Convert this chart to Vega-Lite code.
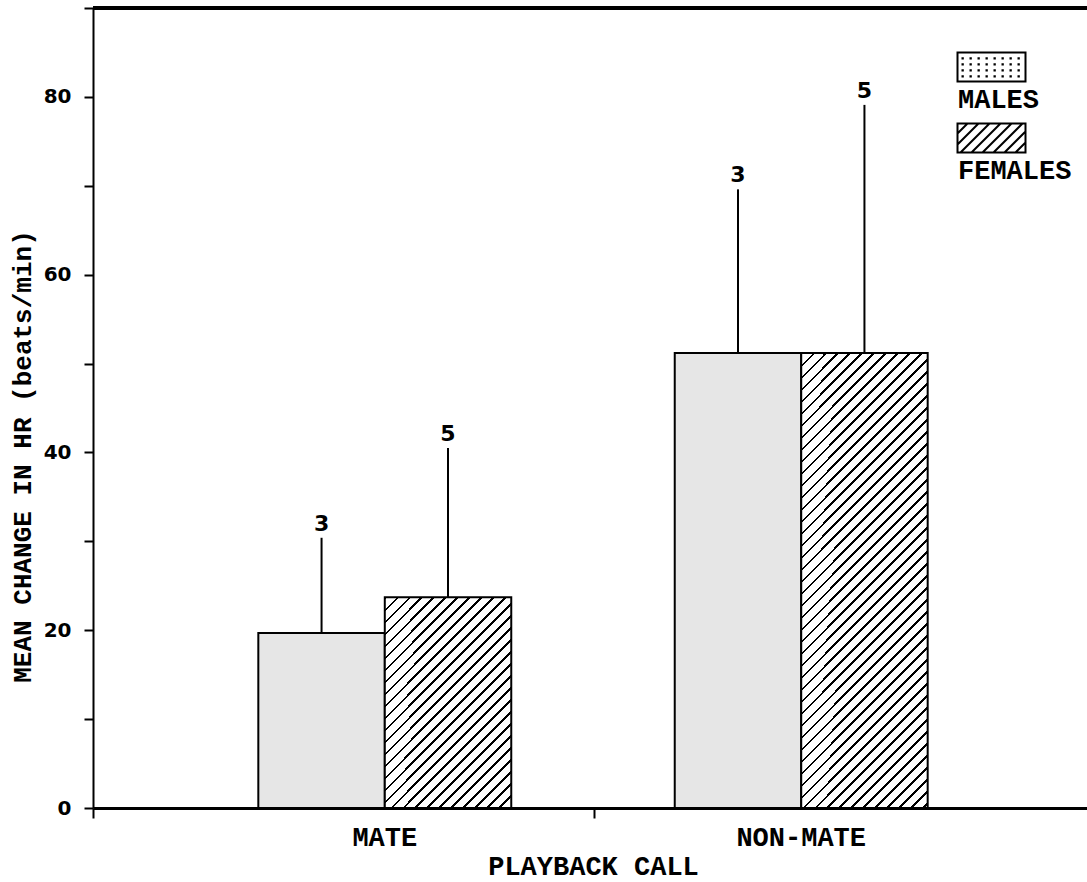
{
"$schema": "https://vega.github.io/schema/vega-lite/v6.json",
"width": 994, "height": 800,
"autosize": {"type": "none"},
"padding": {"left": 93, "top": 8, "right": 0, "bottom": 74},
"background": "white",
"config": {"view": {"stroke": null}, "axis": {"grid": false, "domainColor": "black", "tickColor": "black", "labelColor": "black", "titleColor": "black"}},
"data": {"values": [
 {"call": "MATE", "sex": "MALES", "mean": 19.7, "hi": 30.4, "n": 3},
 {"call": "MATE", "sex": "FEMALES", "mean": 23.7, "hi": 40.5, "n": 5},
 {"call": "NON-MATE", "sex": "MALES", "mean": 51.2, "hi": 69.6, "n": 3},
 {"call": "NON-MATE", "sex": "FEMALES", "mean": 51.2, "hi": 79.1, "n": 5}
]},
"resolve": {"scale": {"x": "independent"}},
"layer": [
 {
  "encoding": {
   "x": {"field": "call", "type": "nominal", "scale": {"paddingInner": 0.3926, "paddingOuter": 0.397, "range": [0, 1000]},
     "axis": {"title": "PLAYBACK CALL", "labelAngle": 0, "ticks": false, "tickSize": 0, "domainWidth": 3, "labelFont": "Liberation Mono", "labelFontWeight": "bold", "labelFontSize": 27, "labelPadding": 16, "titleFont": "Liberation Mono", "titleFontWeight": "bold", "titleFontSize": 27, "titlePadding": 3}},
   "xOffset": {"field": "sex", "type": "nominal", "scale": {"domain": ["MALES", "FEMALES"], "paddingInner": 0, "paddingOuter": 0}}
  },
  "layer": [
   {"mark": {"type": "point", "filled": false, "color": "black", "stroke": "black", "strokeWidth": 2, "size": 64},
    "encoding": {"y": {"datum": 0, "type": "quantitative"},
     "xOffset": {"datum": "MALES"},
     "shape": {"field": "sex", "type": "nominal",
      "scale": {"domain": ["MALES", "FEMALES"], "range": [
       "M1.25 -11.75H18.25V-4.5H1.25Z M2.5 -10.3h0.08v0.08h-0.08z M4.5 -10.3h0.08v0.08h-0.08z M6.5 -10.3h0.08v0.08h-0.08z M8.5 -10.3h0.08v0.08h-0.08z M10.5 -10.3h0.08v0.08h-0.08z M12.5 -10.3h0.08v0.08h-0.08z M14.5 -10.3h0.08v0.08h-0.08z M16.5 -10.3h0.08v0.08h-0.08z M2.5 -8.8h0.08v0.08h-0.08z M4.5 -8.8h0.08v0.08h-0.08z M6.5 -8.8h0.08v0.08h-0.08z M8.5 -8.8h0.08v0.08h-0.08z M10.5 -8.8h0.08v0.08h-0.08z M12.5 -8.8h0.08v0.08h-0.08z M14.5 -8.8h0.08v0.08h-0.08z M16.5 -8.8h0.08v0.08h-0.08z M2.5 -7.3h0.08v0.08h-0.08z M4.5 -7.3h0.08v0.08h-0.08z M6.5 -7.3h0.08v0.08h-0.08z M8.5 -7.3h0.08v0.08h-0.08z M10.5 -7.3h0.08v0.08h-0.08z M12.5 -7.3h0.08v0.08h-0.08z M14.5 -7.3h0.08v0.08h-0.08z M16.5 -7.3h0.08v0.08h-0.08z M2.5 -5.8h0.08v0.08h-0.08z M4.5 -5.8h0.08v0.08h-0.08z M6.5 -5.8h0.08v0.08h-0.08z M8.5 -5.8h0.08v0.08h-0.08z M10.5 -5.8h0.08v0.08h-0.08z M12.5 -5.8h0.08v0.08h-0.08z M14.5 -5.8h0.08v0.08h-0.08z M16.5 -5.8h0.08v0.08h-0.08z",
       "M1.25 -11.75H18.25V-4.5H1.25Z M1.25 -9.25L3.75 -11.75 M1.25 -6.5L6.5 -11.75 M2 -4.5L9.25 -11.75 M4.75 -4.5L12 -11.75 M7.5 -4.5L14.75 -11.75 M10.25 -4.5L17.5 -11.75 M13 -4.5L18.25 -9.75 M15.75 -4.5L18.25 -7"
      ]},
      "legend": {"title": null, "orient": "none", "legendX": 846, "legendY": 78, "padding": 0, "symbolSize": 64, "symbolOpacity": 1, "symbolStrokeColor": "black", "symbolStrokeWidth": 2, "labelFont": "Liberation Mono", "labelFontWeight": "bold", "labelFontSize": 27, "labelColor": "black", "labelOffset": -8, "rowPadding": 6}}}},
   {"transform": [{"filter": "datum.sex == 'MALES'"}],
    "mark": {"type": "bar", "fill": "#e6e6e6", "stroke": "black", "strokeWidth": 2},
    "encoding": {"y": {"field": "mean", "type": "quantitative", "scale": {"domain": [0, 90], "nice": false},
      "axis": {"title": "MEAN CHANGE IN HR (beats/min)", "titleY": 448, "values": [0, 10, 20, 30, 40, 50, 60, 70, 80, 90], "labelExpr": "datum.value % 20 == 0 && datum.value < 90 ? datum.label : ''", "tickSize": 9, "tickWidth": 2, "domainWidth": 2, "labelFont": "DejaVu Sans", "labelFontWeight": "bold", "labelFontSize": 20, "labelPadding": 13, "titleFont": "Liberation Mono", "titleFontWeight": "bold", "titleFontSize": 26, "titlePadding": 8}}}},
   {"transform": [{"filter": "datum.sex == 'FEMALES' && datum.call == 'MATE'"}],
    "mark": {"type": "bar", "stroke": "black", "strokeWidth": 2, "fill": {"gradient": "linear", "x1": 0, "y1": 0, "x2": 0.7302, "y2": 1.2115, "stops": [
{"offset":0,"color":"#fff"},{"offset":0,"color":"#000"},{"offset":0.0075,"color":"#000"},{"offset":0.0075,"color":"#fff"},
{"offset":0.0345,"color":"#fff"},{"offset":0.0345,"color":"#000"},{"offset":0.042,"color":"#000"},{"offset":0.042,"color":"#fff"},
{"offset":0.069,"color":"#fff"},{"offset":0.069,"color":"#000"},{"offset":0.0765,"color":"#000"},{"offset":0.0765,"color":"#fff"},
{"offset":0.1034,"color":"#fff"},{"offset":0.1034,"color":"#000"},{"offset":0.1109,"color":"#000"},{"offset":0.1109,"color":"#fff"},
{"offset":0.1379,"color":"#fff"},{"offset":0.1379,"color":"#000"},{"offset":0.1454,"color":"#000"},{"offset":0.1454,"color":"#fff"},
{"offset":0.1724,"color":"#fff"},{"offset":0.1724,"color":"#000"},{"offset":0.1799,"color":"#000"},{"offset":0.1799,"color":"#fff"},
{"offset":0.2069,"color":"#fff"},{"offset":0.2069,"color":"#000"},{"offset":0.2144,"color":"#000"},{"offset":0.2144,"color":"#fff"},
{"offset":0.2414,"color":"#fff"},{"offset":0.2414,"color":"#000"},{"offset":0.2489,"color":"#000"},{"offset":0.2489,"color":"#fff"},
{"offset":0.2759,"color":"#fff"},{"offset":0.2759,"color":"#000"},{"offset":0.2834,"color":"#000"},{"offset":0.2834,"color":"#fff"},
{"offset":0.3103,"color":"#fff"},{"offset":0.3103,"color":"#000"},{"offset":0.3178,"color":"#000"},{"offset":0.3178,"color":"#fff"},
{"offset":0.3448,"color":"#fff"},{"offset":0.3448,"color":"#000"},{"offset":0.3523,"color":"#000"},{"offset":0.3523,"color":"#fff"},
{"offset":0.3793,"color":"#fff"},{"offset":0.3793,"color":"#000"},{"offset":0.3868,"color":"#000"},{"offset":0.3868,"color":"#fff"},
{"offset":0.4138,"color":"#fff"},{"offset":0.4138,"color":"#000"},{"offset":0.4213,"color":"#000"},{"offset":0.4213,"color":"#fff"},
{"offset":0.4483,"color":"#fff"},{"offset":0.4483,"color":"#000"},{"offset":0.4558,"color":"#000"},{"offset":0.4558,"color":"#fff"},
{"offset":0.4828,"color":"#fff"},{"offset":0.4828,"color":"#000"},{"offset":0.4903,"color":"#000"},{"offset":0.4903,"color":"#fff"},
{"offset":0.5172,"color":"#fff"},{"offset":0.5172,"color":"#000"},{"offset":0.5247,"color":"#000"},{"offset":0.5247,"color":"#fff"},
{"offset":0.5517,"color":"#fff"},{"offset":0.5517,"color":"#000"},{"offset":0.5592,"color":"#000"},{"offset":0.5592,"color":"#fff"},
{"offset":0.5862,"color":"#fff"},{"offset":0.5862,"color":"#000"},{"offset":0.5937,"color":"#000"},{"offset":0.5937,"color":"#fff"},
{"offset":0.6207,"color":"#fff"},{"offset":0.6207,"color":"#000"},{"offset":0.6282,"color":"#000"},{"offset":0.6282,"color":"#fff"},
{"offset":0.6552,"color":"#fff"},{"offset":0.6552,"color":"#000"},{"offset":0.6627,"color":"#000"},{"offset":0.6627,"color":"#fff"},
{"offset":0.6897,"color":"#fff"},{"offset":0.6897,"color":"#000"},{"offset":0.6972,"color":"#000"},{"offset":0.6972,"color":"#fff"},
{"offset":0.7241,"color":"#fff"},{"offset":0.7241,"color":"#000"},{"offset":0.7316,"color":"#000"},{"offset":0.7316,"color":"#fff"},
{"offset":0.7586,"color":"#fff"},{"offset":0.7586,"color":"#000"},{"offset":0.7661,"color":"#000"},{"offset":0.7661,"color":"#fff"},
{"offset":0.7931,"color":"#fff"},{"offset":0.7931,"color":"#000"},{"offset":0.8006,"color":"#000"},{"offset":0.8006,"color":"#fff"},
{"offset":0.8276,"color":"#fff"},{"offset":0.8276,"color":"#000"},{"offset":0.8351,"color":"#000"},{"offset":0.8351,"color":"#fff"},
{"offset":0.8621,"color":"#fff"},{"offset":0.8621,"color":"#000"},{"offset":0.8696,"color":"#000"},{"offset":0.8696,"color":"#fff"},
{"offset":0.8966,"color":"#fff"},{"offset":0.8966,"color":"#000"},{"offset":0.9041,"color":"#000"},{"offset":0.9041,"color":"#fff"},
{"offset":0.931,"color":"#fff"},{"offset":0.931,"color":"#000"},{"offset":0.9385,"color":"#000"},{"offset":0.9385,"color":"#fff"},
{"offset":0.9655,"color":"#fff"},{"offset":0.9655,"color":"#000"},{"offset":0.973,"color":"#000"},{"offset":0.973,"color":"#fff"}
]}},
    "encoding": {"y": {"field": "mean", "type": "quantitative"}}},
   {"transform": [{"filter": "datum.sex == 'FEMALES' && datum.call == 'NON-MATE'"}],
    "mark": {"type": "bar", "stroke": "black", "strokeWidth": 2, "fill": {"gradient": "linear", "x1": 0, "y1": 0, "x2": 0.3345, "y2": 1.1987, "stops": [
{"offset":0,"color":"#fff"},{"offset":0,"color":"#000"},{"offset":0.0044,"color":"#000"},{"offset":0.0044,"color":"#fff"},
{"offset":0.0204,"color":"#fff"},{"offset":0.0204,"color":"#000"},{"offset":0.0248,"color":"#000"},{"offset":0.0248,"color":"#fff"},
{"offset":0.0408,"color":"#fff"},{"offset":0.0408,"color":"#000"},{"offset":0.0452,"color":"#000"},{"offset":0.0452,"color":"#fff"},
{"offset":0.0612,"color":"#fff"},{"offset":0.0612,"color":"#000"},{"offset":0.0656,"color":"#000"},{"offset":0.0656,"color":"#fff"},
{"offset":0.0816,"color":"#fff"},{"offset":0.0816,"color":"#000"},{"offset":0.086,"color":"#000"},{"offset":0.086,"color":"#fff"},
{"offset":0.102,"color":"#fff"},{"offset":0.102,"color":"#000"},{"offset":0.1064,"color":"#000"},{"offset":0.1064,"color":"#fff"},
{"offset":0.1224,"color":"#fff"},{"offset":0.1224,"color":"#000"},{"offset":0.1268,"color":"#000"},{"offset":0.1268,"color":"#fff"},
{"offset":0.1429,"color":"#fff"},{"offset":0.1429,"color":"#000"},{"offset":0.1473,"color":"#000"},{"offset":0.1473,"color":"#fff"},
{"offset":0.1633,"color":"#fff"},{"offset":0.1633,"color":"#000"},{"offset":0.1677,"color":"#000"},{"offset":0.1677,"color":"#fff"},
{"offset":0.1837,"color":"#fff"},{"offset":0.1837,"color":"#000"},{"offset":0.1881,"color":"#000"},{"offset":0.1881,"color":"#fff"},
{"offset":0.2041,"color":"#fff"},{"offset":0.2041,"color":"#000"},{"offset":0.2085,"color":"#000"},{"offset":0.2085,"color":"#fff"},
{"offset":0.2245,"color":"#fff"},{"offset":0.2245,"color":"#000"},{"offset":0.2289,"color":"#000"},{"offset":0.2289,"color":"#fff"},
{"offset":0.2449,"color":"#fff"},{"offset":0.2449,"color":"#000"},{"offset":0.2493,"color":"#000"},{"offset":0.2493,"color":"#fff"},
{"offset":0.2653,"color":"#fff"},{"offset":0.2653,"color":"#000"},{"offset":0.2697,"color":"#000"},{"offset":0.2697,"color":"#fff"},
{"offset":0.2857,"color":"#fff"},{"offset":0.2857,"color":"#000"},{"offset":0.2901,"color":"#000"},{"offset":0.2901,"color":"#fff"},
{"offset":0.3061,"color":"#fff"},{"offset":0.3061,"color":"#000"},{"offset":0.3105,"color":"#000"},{"offset":0.3105,"color":"#fff"},
{"offset":0.3265,"color":"#fff"},{"offset":0.3265,"color":"#000"},{"offset":0.3309,"color":"#000"},{"offset":0.3309,"color":"#fff"},
{"offset":0.3469,"color":"#fff"},{"offset":0.3469,"color":"#000"},{"offset":0.3513,"color":"#000"},{"offset":0.3513,"color":"#fff"},
{"offset":0.3673,"color":"#fff"},{"offset":0.3673,"color":"#000"},{"offset":0.3717,"color":"#000"},{"offset":0.3717,"color":"#fff"},
{"offset":0.3878,"color":"#fff"},{"offset":0.3878,"color":"#000"},{"offset":0.3922,"color":"#000"},{"offset":0.3922,"color":"#fff"},
{"offset":0.4082,"color":"#fff"},{"offset":0.4082,"color":"#000"},{"offset":0.4126,"color":"#000"},{"offset":0.4126,"color":"#fff"},
{"offset":0.4286,"color":"#fff"},{"offset":0.4286,"color":"#000"},{"offset":0.433,"color":"#000"},{"offset":0.433,"color":"#fff"},
{"offset":0.449,"color":"#fff"},{"offset":0.449,"color":"#000"},{"offset":0.4534,"color":"#000"},{"offset":0.4534,"color":"#fff"},
{"offset":0.4694,"color":"#fff"},{"offset":0.4694,"color":"#000"},{"offset":0.4738,"color":"#000"},{"offset":0.4738,"color":"#fff"},
{"offset":0.4898,"color":"#fff"},{"offset":0.4898,"color":"#000"},{"offset":0.4942,"color":"#000"},{"offset":0.4942,"color":"#fff"},
{"offset":0.5102,"color":"#fff"},{"offset":0.5102,"color":"#000"},{"offset":0.5146,"color":"#000"},{"offset":0.5146,"color":"#fff"},
{"offset":0.5306,"color":"#fff"},{"offset":0.5306,"color":"#000"},{"offset":0.535,"color":"#000"},{"offset":0.535,"color":"#fff"},
{"offset":0.551,"color":"#fff"},{"offset":0.551,"color":"#000"},{"offset":0.5554,"color":"#000"},{"offset":0.5554,"color":"#fff"},
{"offset":0.5714,"color":"#fff"},{"offset":0.5714,"color":"#000"},{"offset":0.5758,"color":"#000"},{"offset":0.5758,"color":"#fff"},
{"offset":0.5918,"color":"#fff"},{"offset":0.5918,"color":"#000"},{"offset":0.5962,"color":"#000"},{"offset":0.5962,"color":"#fff"},
{"offset":0.6122,"color":"#fff"},{"offset":0.6122,"color":"#000"},{"offset":0.6166,"color":"#000"},{"offset":0.6166,"color":"#fff"},
{"offset":0.6327,"color":"#fff"},{"offset":0.6327,"color":"#000"},{"offset":0.6371,"color":"#000"},{"offset":0.6371,"color":"#fff"},
{"offset":0.6531,"color":"#fff"},{"offset":0.6531,"color":"#000"},{"offset":0.6575,"color":"#000"},{"offset":0.6575,"color":"#fff"},
{"offset":0.6735,"color":"#fff"},{"offset":0.6735,"color":"#000"},{"offset":0.6779,"color":"#000"},{"offset":0.6779,"color":"#fff"},
{"offset":0.6939,"color":"#fff"},{"offset":0.6939,"color":"#000"},{"offset":0.6983,"color":"#000"},{"offset":0.6983,"color":"#fff"},
{"offset":0.7143,"color":"#fff"},{"offset":0.7143,"color":"#000"},{"offset":0.7187,"color":"#000"},{"offset":0.7187,"color":"#fff"},
{"offset":0.7347,"color":"#fff"},{"offset":0.7347,"color":"#000"},{"offset":0.7391,"color":"#000"},{"offset":0.7391,"color":"#fff"},
{"offset":0.7551,"color":"#fff"},{"offset":0.7551,"color":"#000"},{"offset":0.7595,"color":"#000"},{"offset":0.7595,"color":"#fff"},
{"offset":0.7755,"color":"#fff"},{"offset":0.7755,"color":"#000"},{"offset":0.7799,"color":"#000"},{"offset":0.7799,"color":"#fff"},
{"offset":0.7959,"color":"#fff"},{"offset":0.7959,"color":"#000"},{"offset":0.8003,"color":"#000"},{"offset":0.8003,"color":"#fff"},
{"offset":0.8163,"color":"#fff"},{"offset":0.8163,"color":"#000"},{"offset":0.8207,"color":"#000"},{"offset":0.8207,"color":"#fff"},
{"offset":0.8367,"color":"#fff"},{"offset":0.8367,"color":"#000"},{"offset":0.8411,"color":"#000"},{"offset":0.8411,"color":"#fff"},
{"offset":0.8571,"color":"#fff"},{"offset":0.8571,"color":"#000"},{"offset":0.8615,"color":"#000"},{"offset":0.8615,"color":"#fff"},
{"offset":0.8776,"color":"#fff"},{"offset":0.8776,"color":"#000"},{"offset":0.882,"color":"#000"},{"offset":0.882,"color":"#fff"},
{"offset":0.898,"color":"#fff"},{"offset":0.898,"color":"#000"},{"offset":0.9024,"color":"#000"},{"offset":0.9024,"color":"#fff"},
{"offset":0.9184,"color":"#fff"},{"offset":0.9184,"color":"#000"},{"offset":0.9228,"color":"#000"},{"offset":0.9228,"color":"#fff"},
{"offset":0.9388,"color":"#fff"},{"offset":0.9388,"color":"#000"},{"offset":0.9432,"color":"#000"},{"offset":0.9432,"color":"#fff"},
{"offset":0.9592,"color":"#fff"},{"offset":0.9592,"color":"#000"},{"offset":0.9636,"color":"#000"},{"offset":0.9636,"color":"#fff"},
{"offset":0.9796,"color":"#fff"},{"offset":0.9796,"color":"#000"},{"offset":0.984,"color":"#000"},{"offset":0.984,"color":"#fff"}
]}},
    "encoding": {"y": {"field": "mean", "type": "quantitative"}}},
   {"mark": {"type": "rule", "color": "black", "strokeWidth": 2},
    "encoding": {"y": {"field": "mean", "type": "quantitative"}, "y2": {"field": "hi"}}},
   {"mark": {"type": "text", "baseline": "alphabetic", "dy": -7, "font": "DejaVu Sans", "fontWeight": "bold", "fontSize": 22, "color": "black"},
    "encoding": {"y": {"field": "hi", "type": "quantitative"}, "text": {"field": "n", "type": "quantitative"}}}
  ]
 },
 {
  "mark": {"type": "rule", "color": "black", "strokeWidth": 3},
  "encoding": {"y": {"datum": 90, "type": "quantitative"}}
 },
 {
  "mark": {"type": "rule", "color": "black", "strokeWidth": 3},
  "encoding": {
   "x": {"datum": 0, "type": "quantitative", "scale": {"domain": [0, 1.984], "nice": false, "zero": false},
     "axis": {"orient": "bottom", "values": [0, 1], "labels": false, "domain": false, "title": null, "tickSize": 10, "tickWidth": 2, "grid": false}},
   "x2": {"datum": 1.984},
   "y": {"datum": 90, "type": "quantitative"}
  }
 }
]
}
